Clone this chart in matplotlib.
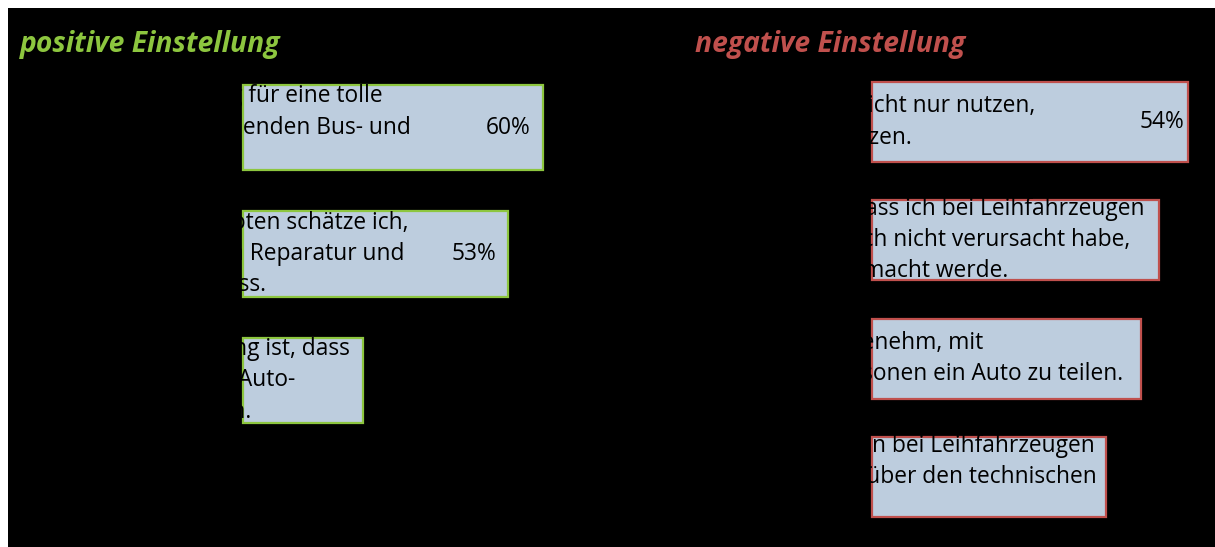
import matplotlib
matplotlib.use("Agg")
import matplotlib.pyplot as plt
from matplotlib.patches import Rectangle

# Survey results: agreement with statements about car sharing
pos_title = "positive Einstellung"
pos_statements = [
    "Ich halte Car-Sharing für eine tolle\nErgänzung zu bestehenden Bus- und\nBahnangeboten.",
    "Bei Mobilitätsangeboten schätze ich,\ndass ich mich nie um Reparatur und\nPflege kümmern muss.",
    "Vorteil bei Car-Sharing ist, dass\nich die Kosten eines Auto-\nbesitzes sparen kann.",
]
pos_values = [60, 53, 24]

neg_title = "negative Einstellung"
neg_statements = [
    "Ich möchte ein Auto nicht nur nutzen,\nsondern es auch besitzen.",
    "Ich habe Bedenken, dass ich bei Leihfahrzeugen\nfür alle Schäden, die ich nicht verursacht habe,\nvoll verantwortlich gemacht werde.",
    "Für mich ist es unangenehm, mit\nmir unbekannten Personen ein Auto zu teilen.",
    "Mich stört es, dass man bei Leihfahrzeugen\nkeine volle Sicherheit über den technischen\nZustand hat.",
]
neg_values = [54, 49, 46, 40]

W, H = 1215, 547
FONT = "Open Sans"
BAR_FILL = "#BDCDDE"
TXT_SIZE = 16.4

fig = plt.figure(figsize=(W / 100, H / 100), dpi=100, facecolor="white")
fig.patches.append(Rectangle((8 / W, 0), 1 - 8 / W, 1 - 8 / H,
                             transform=fig.transFigure, facecolor="black",
                             edgecolor="none", zorder=-10))


def px_axes(x0, x1, y0, y1):
    """Axes placed by pixel box (y measured from the top)."""
    return fig.add_axes([x0 / W, 1 - y1 / H, (x1 - x0) / W, (y1 - y0) / H])


def panel(ax, statements, values, edge, xlim, text_x, pct_pad, bar_h):
    n = len(values)
    ax.set_xlim(*xlim)
    ax.set_ylim(n - 0.5, -0.5)
    ax.set_axis_off()
    ax.patch.set_visible(False)
    ys = list(range(n))
    ax.barh(ys, values, height=bar_h, color=BAR_FILL, edgecolor=edge,
            linewidth=1.6, zorder=2)
    for y, s, v in zip(ys, statements, values):
        ax.text(text_x, y, s, ha="left", va="center", color="black",
                fontsize=TXT_SIZE, family=FONT, linespacing=1.39, zorder=3)
        label = f"{v}%"
        if v >= 50:
            ax.annotate(label, (v, y), xytext=(-pct_pad, 0),
                        textcoords="offset pixels", ha="right", va="center",
                        color="black", fontsize=TXT_SIZE, family=FONT, zorder=3)
        else:
            ax.annotate(label, (v, y), xytext=(pct_pad, 0),
                        textcoords="offset pixels", ha="left", va="center",
                        color="black", fontsize=TXT_SIZE, family=FONT, zorder=3)


# left panel: 0% at x=243px, 5 px per percent
ax_pos = px_axes(8, 600, 64.25, 443.75)
panel(ax_pos, pos_statements, pos_values, "#8DC63F",
      ((8 - 243) / 5, (600 - 243) / 5), (22.5 - 243) / 5, 12, 0.672)

# right panel: 0% at x=872px, 5.85 px per percent
ax_neg = px_axes(600, 1215, 62.83, 536.17)
panel(ax_neg, neg_statements, neg_values, "#C0504D",
      ((600 - 872) / 5.85, (1215 - 872) / 5.85), (636 - 872) / 5.85, 4, 0.676)

fig.text(20 / W, 1 - 52 / H, pos_title, color="#8DC63F", fontsize=20.3,
         fontweight="bold", fontstyle="italic", family=FONT, va="baseline")
fig.text(695 / W, 1 - 52 / H, neg_title, color="#C0504D", fontsize=20.3,
         fontweight="bold", fontstyle="italic", family=FONT, va="baseline")

fig.savefig("out.png", dpi=100, facecolor=fig.get_facecolor())
